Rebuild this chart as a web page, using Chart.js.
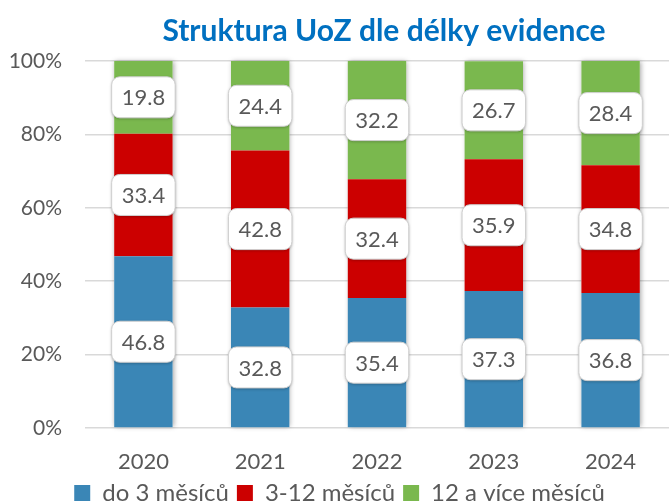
<!DOCTYPE html>
<html>
<head>
<meta charset="utf-8">
<script src="https://cdn.jsdelivr.net/npm/chart.js@4.4.1/dist/chart.umd.min.js"></script>
<style>
  html, body { margin: 0; padding: 0; background: #fff; }
  #wrap { width: 669px; height: 501px; }
</style>
</head>
<body>
<div id="wrap"><canvas id="chart"></canvas></div>
<script>
// data
const years = ['2020', '2021', '2022', '2023', '2024'];
const do3 = [46.8, 32.8, 35.4, 37.3, 36.8];
const mid = [33.4, 42.8, 32.4, 35.9, 34.8];
const over12 = [19.8, 24.4, 32.2, 26.7, 28.4];
const seriesNames = ['do 3 měsíců', '3-12 měsíců', '12 a více měsíců'];
const yTicks = [0, 20, 40, 60, 80, 100];

const font = 'Lato, "Open Sans", sans-serif';

// shadow behind whole bars, like the excel chart
const barShadow = {
    id: 'barShadow',
    beforeDatasetsDraw(chart) {
        const ctx = chart.ctx;
        const first = chart.getDatasetMeta(0).data;
        const last = chart.getDatasetMeta(chart.data.datasets.length - 1).data;
        ctx.save();
        ctx.shadowColor = 'rgba(0,0,0,0.35)';
        ctx.shadowBlur = 5;
        ctx.shadowOffsetX = 1;
        ctx.fillStyle = '#fff';
        first.forEach((bar, i) => {
            const top = last[i].y;
            const w = bar.width;
            ctx.fillRect(bar.x - w / 2, top, w, bar.base - top);
        });
        ctx.restore();
    }
};

// value labels in white rounded boxes
const boxLabels = {
    id: 'boxLabels',
    afterDatasetsDraw(chart) {
        const ctx = chart.ctx;
        ctx.save();
        ctx.font = '22px ' + font;
        ctx.textAlign = 'center';
        ctx.textBaseline = 'middle';
        chart.data.datasets.forEach((ds, di) => {
            chart.getDatasetMeta(di).data.forEach((bar, i) => {
                const txt = ds.data[i].toFixed(1);
                const cy = (bar.y + bar.base) / 2;
                const w = ctx.measureText(txt).width + 20;
                const h = 41;
                ctx.beginPath();
                ctx.roundRect(bar.x - w / 2, cy - h / 2, w, h, 8);
                ctx.shadowColor = 'rgba(0,0,0,0.3)';
                ctx.shadowBlur = 3;
                ctx.shadowOffsetY = 1;
                ctx.fillStyle = '#fff';
                ctx.fill();
                ctx.shadowColor = 'transparent';
                ctx.lineWidth = 1;
                ctx.strokeStyle = '#d0d0d0';
                ctx.stroke();
                ctx.fillStyle = '#595959';
                ctx.fillText(txt, bar.x, cy + 1);
            });
        });
        ctx.restore();
    }
};

// title sits over the plot area rather than the whole canvas
const shiftTitle = {
    id: 'shiftTitle',
    afterLayout(chart) {
        const a = chart.chartArea;
        chart.titleBlock.left = a.left + 14;
        chart.titleBlock.right = a.right;
    }
};

new Chart(document.getElementById('chart'), {
    type: 'bar',
    data: {
        labels: years,
        datasets: [
            { label: seriesNames[0], data: do3, backgroundColor: '#3a86b6' },
            { label: seriesNames[1], data: mid, backgroundColor: '#cc0000' },
            { label: seriesNames[2], data: over12, backgroundColor: '#7ab84e' }
        ]
    },
    options: {
        responsive: true,
        maintainAspectRatio: false,
        animation: false,
        layout: { padding: { left: 10, right: 0, top: 11, bottom: -14 } },
        datasets: { bar: { categoryPercentage: 0.5, barPercentage: 1 } },
        scales: {
            x: {
                stacked: true,
                afterFit: (axis) => { axis.height = 45; },
                grid: { display: false, drawTicks: false },
                border: { display: false },
                ticks: { color: '#595959', font: { family: font, size: 22 }, padding: 21 }
            },
            y: {
                stacked: true,
                min: 0,
                max: 100,
                afterBuildTicks: (axis) => { axis.ticks = yTicks.map(v => ({ value: v })); },
                afterFit: (axis) => { axis.width = 75; },
                grid: { color: '#d9d9d9', lineWidth: 1.5, drawTicks: false },
                border: { display: false },
                ticks: {
                    color: '#595959',
                    font: { family: font, size: 21 },
                    padding: 23,
                    callback: v => v + '%'
                }
            }
        },
        plugins: {
            title: {
                display: true,
                text: 'Struktura UoZ dle délky evidence',
                color: '#0070c0',
                font: { family: font, size: 30, weight: 'bold' },
                padding: { top: 2, bottom: 12 }
            },
            legend: {
                position: 'bottom',
                labels: {
                    color: '#595959',
                    font: { family: font, size: 24 },
                    boxWidth: 16,
                    boxHeight: 16,
                    padding: 8
                }
            },
            tooltip: { enabled: false }
        }
    },
    plugins: [barShadow, boxLabels, shiftTitle]
});
</script>
</body>
</html>
